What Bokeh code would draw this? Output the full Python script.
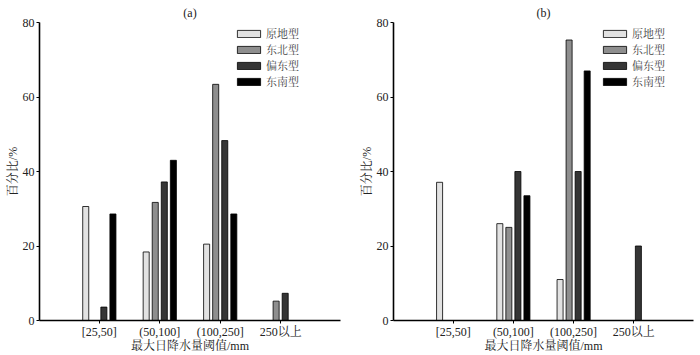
from bokeh.plotting import figure
from bokeh.models import ColumnDataSource, FactorRange, Legend, LegendItem, Title, FixedTicker
from bokeh.transform import dodge
from bokeh.layouts import row
from bokeh.embed import file_html
from bokeh.resources import INLINE

categories = ["[25,50]", "(50,100]", "(100,250]", "250以上"]
types = ["原地型", "东北型", "偏东型", "东南型"]
colors = ["#e2e2e2", "#8e8e8e", "#353535", "#000000"]

a_yuandi = [30.6, 18.4, 20.5, 0]
a_dongbei = [0, 31.7, 63.4, 5.2]
a_piandong = [3.6, 37.2, 48.3, 7.3]
a_dongnan = [28.6, 43.0, 28.6, 0]

b_yuandi = [37.1, 26.0, 11.0, 0]
b_dongbei = [0, 25.0, 75.3, 0]
b_piandong = [0, 40.0, 40.0, 20.0]
b_dongnan = [0, 33.5, 67.0, 0]

FONT = "'Liberation Serif', 'Noto Serif CJK SC', 'Noto Sans CJK SC', serif"
offsets = [-0.225, -0.075, 0.075, 0.225]


def make_panel(title, series, left_border, right_border, legend_x):
    src = ColumnDataSource(dict(cat=categories, s0=series[0], s1=series[1], s2=series[2], s3=series[3]))
    p = figure(width=350, height=355, x_range=FactorRange(*categories, range_padding=0.49,
               range_padding_units="absolute"), y_range=(0, 80),
               output_backend="svg", toolbar_location=None,
               min_border_left=left_border, min_border_right=right_border, min_border_top=22,
               min_border_bottom=30)
    p.title = Title(text=title, align="center", text_font=FONT, text_font_size="12px",
                    text_font_style="normal", text_color="#222222", offset=0, standoff=6)
    items = []
    for i, key in enumerate(["s0", "s1", "s2", "s3"]):
        r = p.vbar(x=dodge("cat", offsets[i], range=p.x_range), top=key, width=0.1, source=src,
                   fill_color=colors[i], line_color="#000000", line_width=0.8)
        items.append(LegendItem(label=types[i], renderers=[r]))
    leg = Legend(items=items, location=(legend_x, 231), border_line_color=None, background_fill_alpha=0,
                 label_text_font=FONT, label_text_font_size="11px", glyph_width=29, glyph_height=9,
                 spacing=0, padding=1, margin=0, label_standoff=3, label_height=13)
    p.add_layout(leg)
    p.outline_line_color = None
    p.grid.grid_line_color = None
    p.yaxis.ticker = FixedTicker(ticks=[0, 20, 40, 60, 80])
    p.yaxis.axis_label = "百分比/%"
    p.xaxis.axis_label = "最大日降水量阈值/mm"
    for ax in (p.xaxis[0], p.yaxis[0]):
        ax.axis_line_width = 1.6
        ax.axis_line_color = "#000000"
        ax.major_tick_out = 3
        ax.major_tick_in = 0
        ax.minor_tick_out = 0
        ax.minor_tick_in = 0
        ax.major_tick_line_color = "#000000"
        ax.major_label_text_font = FONT
        ax.major_label_text_font_size = "12px"
        ax.major_label_text_color = "#222222"
        ax.axis_label_text_font = FONT
        ax.axis_label_text_font_size = "12px"
        ax.axis_label_text_font_style = "normal"
        ax.axis_label_text_color = "#222222"
        ax.major_label_standoff = 2
        ax.axis_label_standoff = 0
    p.xaxis[0].major_label_standoff = 1
    p.xaxis[0].axis_label_standoff = -3
    return p


pa = make_panel("(a)", [a_yuandi, a_dongbei, a_piandong, a_dongnan], 39, 10, 195)
pb = make_panel("(b)", [b_yuandi, b_dongbei, b_piandong, b_dongnan], 43, 7, 207)
layout = row(pa, pb)
open("out.html", "w").write(file_html(layout, INLINE))
